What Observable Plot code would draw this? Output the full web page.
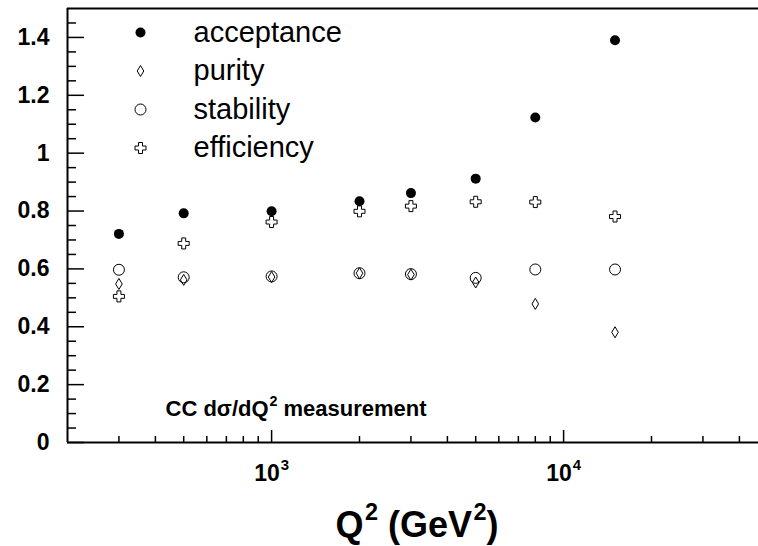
<!DOCTYPE html>
<html><head><meta charset="utf-8">
<script src="https://cdn.jsdelivr.net/npm/d3@7"></script>
<script src="https://cdn.jsdelivr.net/npm/@observablehq/plot@0.6"></script>
<style>body{margin:0;background:#fff}</style>
</head><body><div id="chart"></div>
<script>
// ---- data ----
const q2 = [300, 500, 1000, 2000, 3000, 5000, 8000, 15000];
const acceptance = [0.721, 0.792, 0.799, 0.834, 0.862, 0.912, 1.123, 1.39];
const purity     = [0.548, 0.562, 0.572, 0.585, 0.580, 0.553, 0.479, 0.381];
const stability  = [0.597, 0.571, 0.574, 0.585, 0.582, 0.569, 0.598, 0.598];
const efficiency = [0.505, 0.688, 0.762, 0.799, 0.817, 0.832, 0.831, 0.781];
const seriesNames = ["acceptance", "purity", "stability", "efficiency"];
const yMajor = [0, 0.2, 0.4, 0.6, 0.8, 1, 1.2, 1.4];
const yMinor = [0.05,0.1,0.15,0.25,0.3,0.35,0.45,0.5,0.55,0.65,0.7,0.75,0.85,0.9,0.95,1.05,1.1,1.15,1.25,1.3,1.35,1.45];
const xMajor = [1000, 10000];
const xMajorLabels = ["10^3", "10^4"];
const xMinor = [300,400,500,600,700,800,900,2000,3000,4000,5000,6000,7000,8000,9000,20000,30000,40000];
const noteText = "CC dσ/dQ^2 measurement";
const xTitle = "Q^2 (GeV^2)";

// ---- symbols ----
const openCross = {draw(ctx, size) {
  const r = Math.sqrt(size / Math.PI), a = r * 0.36;
  ctx.moveTo(-a, -r); ctx.lineTo(a, -r); ctx.lineTo(a, -a); ctx.lineTo(r, -a);
  ctx.lineTo(r, a); ctx.lineTo(a, a); ctx.lineTo(a, r); ctx.lineTo(-a, r);
  ctx.lineTo(-a, a); ctx.lineTo(-r, a); ctx.lineTo(-r, -a); ctx.lineTo(-a, -a); ctx.closePath();
}};
const thinDiamond = {draw(ctx, size) {
  const r = Math.sqrt(size / Math.PI);
  ctx.moveTo(0, -r); ctx.lineTo(r * 0.6, 0); ctx.lineTo(0, r); ctx.lineTo(-r * 0.6, 0); ctx.closePath();
}};
const styles = {
  acceptance: {symbol: "circle", r: 5, fill: "black", stroke: "none"},
  purity: {symbol: thinDiamond, r: 5.5, fill: "none", stroke: "black", strokeWidth: 1},
  stability: {symbol: "circle", r: 5.5, fill: "none", stroke: "black", strokeWidth: 1},
  efficiency: {symbol: openCross, r: 5.5, fill: "white", stroke: "black", strokeWidth: 1}
};
const values = {acceptance, purity, stability, efficiency};

const W = 758, H = 546, mL = 67, mR = 0, mT = 8, mB = 104;
const fw = W - mL - mR, fh = H - mT - mB;

const marks = [];
// frame lines
marks.push(Plot.ruleY([1.5], {stroke: "black", strokeWidth: 2}));
marks.push(Plot.ruleX([200], {stroke: "black", strokeWidth: 2}));
marks.push(Plot.ruleY([0], {stroke: "black", strokeWidth: 2}));
// ticks (inward)
marks.push(Plot.tickX(xMajor, {x: d => d, insetTop: fh - 12, stroke: "black", strokeWidth: 1.5}));
marks.push(Plot.tickX(xMinor, {x: d => d, insetTop: fh - 6, stroke: "black", strokeWidth: 1.5}));
marks.push(Plot.tickY(yMajor, {y: d => d, insetRight: fw - 17, stroke: "black", strokeWidth: 1.5}));
marks.push(Plot.tickY(yMinor, {y: d => d, insetRight: fw - 9, stroke: "black", strokeWidth: 1.5}));
// axis labels
marks.push(Plot.axisY(yMajor, {tickSize: 0, tickPadding: 18, tickFormat: d => String(+d.toFixed(1)), fontSize: 23, fontWeight: "bold", fill: "black"}));
marks.push(Plot.text(xMajor, {x: d => d, text: (d, i) => xMajorLabels[i], frameAnchor: "bottom", dy: 38, lineAnchor: "bottom", fontSize: 23, fontWeight: "bold", fill: "black"}));
// data
for (const s of ["stability", "purity", "efficiency", "acceptance"]) {
  const st = styles[s];
  marks.push(Plot.dot(q2, {x: d => d, y: (d, i) => values[s][i], ...st}));
}
// legend
seriesNames.forEach((s, i) => {
  const dy = 24 + i * 38.5;
  marks.push(Plot.dot([s], {frameAnchor: "top-left", dx: 73, dy, ...styles[s]}));
  marks.push(Plot.text([s], {text: d => d, frameAnchor: "top-left", dx: 126, dy, textAnchor: "start", lineAnchor: "middle", fontSize: 29, fill: "black"}));
});
// annotation and title
marks.push(Plot.text([noteText], {text: d => d, frameAnchor: "bottom-left", dx: 98, dy: -27, textAnchor: "start", lineAnchor: "bottom", fontSize: 22, fontWeight: "bold", fill: "black"}));
marks.push(Plot.text([xTitle], {text: d => d, frameAnchor: "bottom", dx: 4, dy: 94, lineAnchor: "bottom", fontSize: 36, fontWeight: "bold", fill: "black"}));

const chart = Plot.plot({
  width: W, height: H,
  marginLeft: mL, marginRight: mR, marginTop: mT, marginBottom: mB,
  style: {fontFamily: "'Liberation Sans', Arial, sans-serif", background: "white", overflow: "visible"},
  x: {type: "log", domain: [200, 46500], axis: null},
  y: {domain: [0, 1.5], axis: null},
  marks
});

// superscripts: "a^b" -> tspan
chart.querySelectorAll("text").forEach(t => {
  if (t.children.length === 0 && t.textContent.includes("^")) {
    const parts = t.textContent.split(/\^(\w)/);
    t.textContent = "";
    parts.forEach((p, k) => {
      if (p === "") return;
      const ts = document.createElementNS("http://www.w3.org/2000/svg", "tspan");
      ts.textContent = p;
      if (k % 2 === 1) {
        ts.setAttribute("font-size", "0.65em");
        ts.setAttribute("dy", "-0.7em");
        ts.setAttribute("dx", "0.06em");
      } else if (k > 0) {
        ts.setAttribute("dy", "0.455em");
      }
      t.appendChild(ts);
    });
  }
});
document.getElementById("chart").appendChild(chart);
</script>
</body></html>
